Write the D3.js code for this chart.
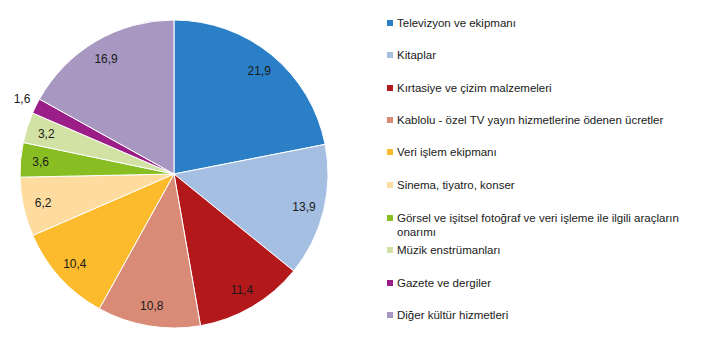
<!DOCTYPE html>
<html>
<head>
<meta charset="utf-8">
<script src="https://cdn.jsdelivr.net/npm/d3@7/dist/d3.min.js"></script>
<style>
body { margin:0; padding:0; background:#fff; }
svg { display:block; font-family:"Liberation Sans", Arial, sans-serif; }
.lbl { font-size:12px; fill:#1a1a1a; }
.leg { font-size:11.5px; fill:#1a1a1a; }
</style>
</head>
<body>
<div id="chart"></div>
<script>
var categories = [
  "Televizyon ve ekipmanı",
  "Kitaplar",
  "Kırtasiye ve çizim malzemeleri",
  "Kablolu - özel TV yayın hizmetlerine ödenen ücretler",
  "Veri işlem ekipmanı",
  "Sinema, tiyatro, konser",
  "Görsel ve işitsel fotoğraf ve veri işleme ile ilgili araçların onarımı",
  "Müzik enstrümanları",
  "Gazete ve dergiler",
  "Diğer kültür hizmetleri"
];
var values = [21.9, 13.9, 11.4, 10.8, 10.4, 6.2, 3.6, 3.2, 1.6, 16.9];
var colors = ["#2a7fc6", "#a5bfe3", "#b3191b", "#d98b78", "#fbbb2c", "#fedc9f", "#89be22", "#d2e2a5", "#9b1d87", "#a797c1"];

var W = 713, H = 350;
var cx = 174, cy = 174, R = 154;

var svg = d3.select("#chart").append("svg").attr("width", W).attr("height", H);

var pie = d3.pie().sort(null).value(function(d){ return d; });
var arcs = pie(values);
var arc = d3.arc().innerRadius(0).outerRadius(R);
var labelArc = d3.arc().innerRadius(R * 0.87).outerRadius(R * 0.87);
var outerArc = d3.arc().innerRadius(R * 1.1).outerRadius(R * 1.1);

var g = svg.append("g").attr("transform", "translate(" + cx + "," + cy + ")");

g.selectAll("path").data(arcs).enter().append("path")
  .attr("d", arc)
  .attr("fill", function(d, i){ return colors[i]; })
  .attr("stroke", "#fff")
  .attr("stroke-width", 1);

g.selectAll("text").data(arcs).enter().append("text")
  .attr("class", "lbl")
  .attr("text-anchor", "middle")
  .attr("dy", "0.35em")
  .attr("transform", function(d){
    var p = (d.data < 2) ? outerArc.centroid(d) : labelArc.centroid(d);
    return "translate(" + p + ")";
  })
  .text(function(d){ return String(d.data).replace(".", ","); });

// legend
var legY = [23, 55, 88, 120, 152, 185, 218, 250, 283, 315];
var lg = svg.append("g");
categories.forEach(function(c, i){
  lg.append("rect")
    .attr("x", 387).attr("y", legY[i] - 3)
    .attr("width", 6).attr("height", 6)
    .attr("fill", colors[i]);
  var t = lg.append("text").attr("class", "leg")
    .attr("x", 397).attr("y", legY[i]).attr("dy", "0.35em");
  if (i === 6) {
    t.append("tspan").attr("x", 397).text("Görsel ve işitsel fotoğraf ve veri işleme ile ilgili araçların");
    t.append("tspan").attr("x", 397).attr("dy", "14px").text("onarımı");
  } else {
    t.text(c);
  }
});
</script>
</body>
</html>
